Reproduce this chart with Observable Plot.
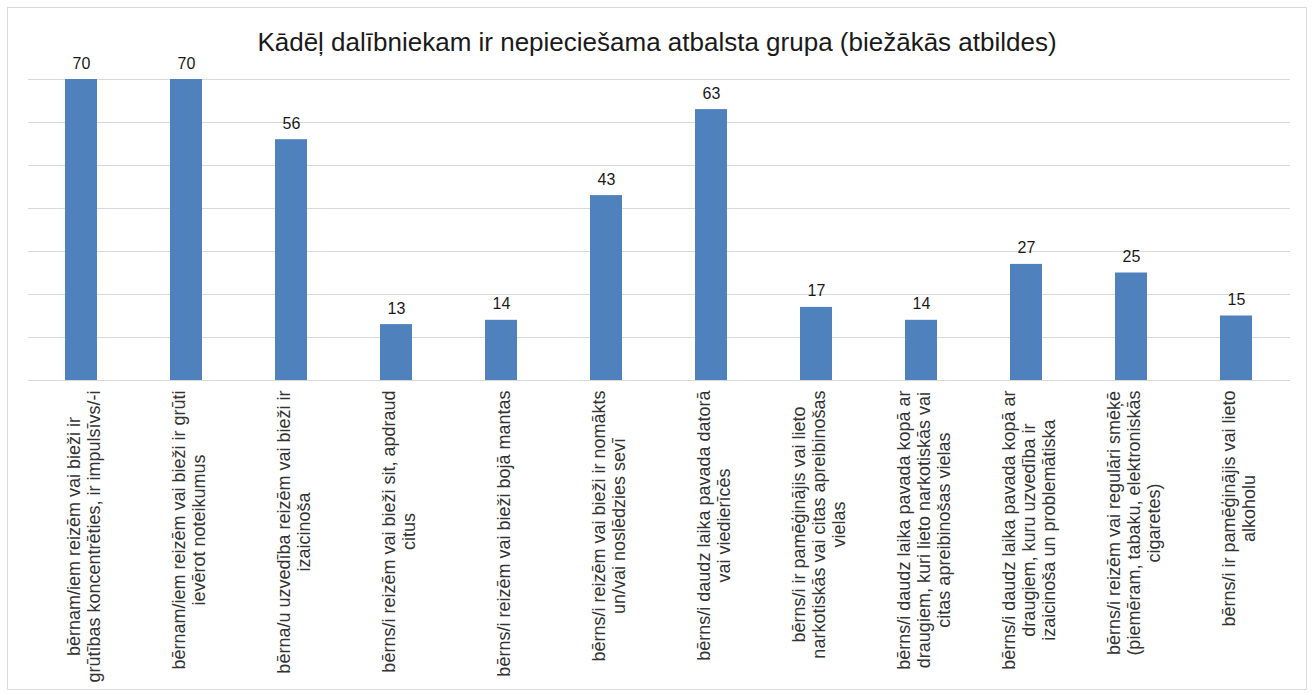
<!DOCTYPE html>
<html><head><meta charset="utf-8">
<script src="https://cdn.jsdelivr.net/npm/d3@7"></script>
<script src="https://cdn.jsdelivr.net/npm/@observablehq/plot@0.6"></script>
<style>
body{margin:0;background:#fff;font-family:"Liberation Sans",Arial,sans-serif;}
#frame{position:absolute;left:7px;top:7px;width:1300px;height:683px;border:1px solid #d9d9d9;box-sizing:border-box;overflow:hidden;}
#title{position:absolute;top:19px;left:0;right:0;text-align:center;font-size:26px;line-height:30px;color:#1a1a1a;}
#chart{position:absolute;top:40px;left:0;}
</style>
</head><body>
<div id="frame">
  <div id="title">Kādēļ dalībniekam ir nepieciešama atbalsta grupa (biežākās atbildes)</div>
  <div id="chart"></div>
</div>
<script>
const categories = [
  "bērnam/iem reizēm vai bieži ir\ngrūtības koncentrēties, ir impulsīvs/-i",
  "bērnam/iem reizēm vai bieži ir grūti\nievērot noteikumus",
  "bērna/u uzvedība reizēm vai bieži ir\nizaicinoša",
  "bērns/i reizēm vai bieži sit, apdraud\ncitus",
  "bērns/i reizēm vai bieži bojā mantas",
  "bērns/i reizēm vai bieži ir nomākts\nun/vai noslēdzies sevī",
  "bērns/i daudz laika pavada datorā\nvai viedierīcēs",
  "bērns/i ir pamēģinājis vai lieto\nnarkotiskās vai citas apreibinošas\nvielas",
  "bērns/i daudz laika pavada kopā ar\ndraugiem, kuri lieto narkotiskās vai\ncitas apreibinošas vielas",
  "bērns/i daudz laika pavada kopā ar\ndraugiem, kuru uzvedība ir\nizaicinoša un problemātiska",
  "bērns/i reizēm vai regulāri smēķē\n(piemēram, tabaku, elektroniskās\ncigaretes)",
  "bērns/i ir pamēģinājis vai lieto\nalkoholu"
];
const values = [70, 70, 56, 13, 14, 43, 63, 17, 14, 27, 25, 15];
const gridTicks = [0, 10, 20, 30, 40, 50, 60, 70];

const data = categories.map((c, i) => ({category: c, value: values[i]}));

const labelFont = 18;
const ctx = document.createElement("canvas").getContext("2d");
ctx.font = `${labelFont}px "Liberation Sans"`;
const longest = s => d3.max(s.split("\n"), l => ctx.measureText(l).width);

const labelMarks = data.map(d => Plot.text([d], {
  x: "category",
  y: () => 0,
  text: "category",
  rotate: -90,
  textAnchor: "middle",
  lineAnchor: "middle",
  lineHeight: 1.12,
  fontSize: labelFont,
  fill: "#333",
  dx: 2,
  dy: 10 + longest(d.category) / 2
}));

const chart = Plot.plot({
  width: 1298,
  height: 641,
  marginTop: 31,
  marginBottom: 309,
  marginLeft: 20,
  marginRight: 16,
  style: {fontFamily: "'Liberation Sans', Arial, sans-serif", background: "transparent", overflow: "visible"},
  x: {domain: categories, paddingInner: 0.695, paddingOuter: 0.3475, axis: null},
  y: {domain: [0, 70], axis: null},
  marks: [
    Plot.ruleY(gridTicks, {stroke: "#d9d9d9", strokeWidth: 1}),
    Plot.barY(data, {x: "category", y: "value", fill: "#4f81bd"}),
    Plot.text(data, {x: "category", y: "value", text: d => String(d.value), lineAnchor: "bottom", dy: -11, fontSize: 16, fill: "#1a1a1a"}),
    ...labelMarks
  ]
});
document.getElementById("chart").appendChild(chart);
</script>
</body></html>
